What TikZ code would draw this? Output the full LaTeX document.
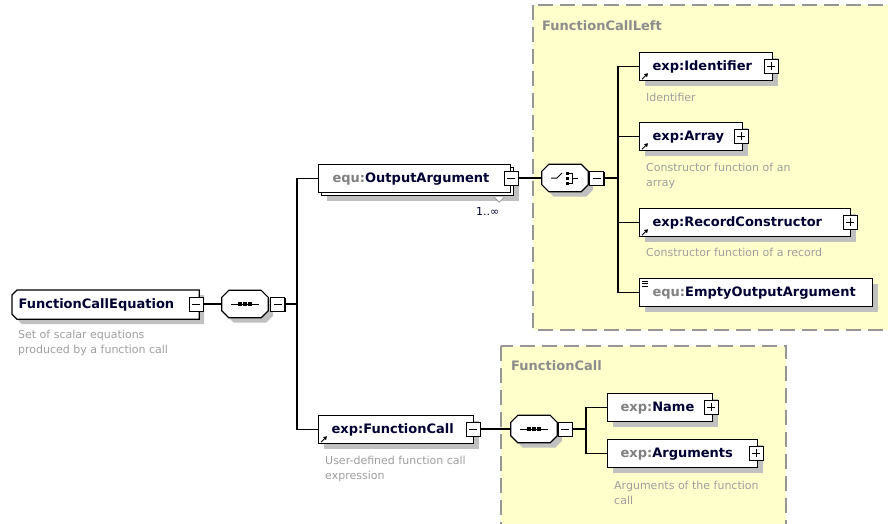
\documentclass[tikz,border=0pt]{standalone}
\usepackage{fontspec}
\setmainfont{DejaVu Sans}
\usetikzlibrary{arrows.meta,calc,shadows,backgrounds}

\definecolor{grpfill}{RGB}{255,255,204}
\definecolor{grpline}{RGB}{150,150,150}
\definecolor{grptext}{RGB}{140,140,140}
\definecolor{desctext}{RGB}{158,158,158}
\definecolor{nametext}{RGB}{0,0,51}
\definecolor{pfxtext}{RGB}{128,128,128}
\definecolor{shade}{RGB}{192,192,192}

\newcommand{\pfx}[1]{\textcolor{pfxtext}{#1}}

\begin{document}
\begin{tikzpicture}[x=1pt,y=-1pt,
  conn/.style={line width=1.2pt},
  grp/.style={fill=grpfill,draw=grpline,line width=1.4pt,dash pattern=on 15pt off 7pt},
  grplabel/.style={anchor=base west,inner sep=0pt,text=grptext,font=\fontsize{13}{15}\selectfont\bfseries},
  shadowed/.style={drop shadow={shadow xshift=5pt,shadow yshift=-5pt,fill=shade,opacity=1}},
  outline/.style={line width=1.2pt,fill=white,shadowed},
  box/.style={draw,fill=white,line width=1.2pt,anchor=north west,minimum height=28pt,
    inner xsep=0pt,inner ysep=0pt,text width=#1,align=left,text height=10pt,text depth=3pt,
    text=nametext,font=\fontsize{13}{15}\selectfont\bfseries},
  elem/.style={box=#1,shadowed},
  desc/.style={anchor=north west,inner sep=0pt,align=left,text=desctext,font=\fontsize{11}{15}\selectfont},
  comp/.style={minimum width=46pt,minimum height=27pt,inner sep=0pt},
  icon/.style={line width=1pt},
  xbox/.style={draw,fill=white,line width=1pt,minimum size=14pt,inner sep=0pt,
    drop shadow={shadow xshift=1.3pt,shadow yshift=-1.3pt,fill=black,opacity=1}},
  minus/.style={xbox,path picture={
    \draw[line width=1pt] ([xshift=3pt]path picture bounding box.west) -- ([xshift=-3pt]path picture bounding box.east);}},
  plus/.style={xbox,path picture={
    \draw[line width=1pt] ([xshift=3pt]path picture bounding box.west) -- ([xshift=-3pt]path picture bounding box.east)
      ([yshift=3pt]path picture bounding box.south) -- ([yshift=-3pt]path picture bounding box.north);}},
  refarr/.style={line width=1pt,-{Triangle[length=3.5pt,width=4pt]}}]

\useasboundingbox (0,0) rectangle (888,523);
\clip (0,0) rectangle (888,523);

\node[grplabel] (leftlbl) at (542,30) {FunctionCallLeft};
\node[grplabel] (calllbl) at (511,370) {FunctionCall};

\node[box=186pt,draw=none,fill=none] (root) at (12,290) {\hspace*{6pt}FunctionCallEquation};
\node[minus] (rootx) at (196,304) {};
\node[desc] (rootdesc) at (18,329.5) {Set of scalar equations\\produced by a function call};

\node[comp] (seqA) at (245,304) {};
\node[minus] (seqAx) at (277.5,304) {};

\node[elem=192pt] (oargback) at (321,167) {};
\node[box=192pt] (oarg) at (318,164) {\hspace*{14pt}\pfx{equ:}OutputArgument};
\node[minus] (oargx) at (511,178) {};
\draw[grpline,line width=0.8pt,fill=white] ([shift={(-20pt,-1pt)}]oargback.south east) -- ++(5pt,-5pt) -- ++(5pt,5pt);
\node[anchor=base west,inner sep=0pt,text=nametext,font=\fontsize{11}{13}\selectfont] (oargmult) at (476,215) {1..∞};

\node[comp] (choice) at (565,178) {};
\node[minus] (choicex) at (596.5,178) {};

\node[elem=133pt] (ident) at (639,52) {\hspace*{13pt}exp:Identifier};
\node[plus] (identx) at (771,66) {};
\node[desc] (identdesc) at (646,92.5) {Identifier};

\node[elem=103pt] (array) at (639,122) {\hspace*{13pt}exp:Array};
\node[plus] (arrayx) at (741,136) {};
\node[desc] (arraydesc) at (646,163) {Constructor function of an\\array};

\node[elem=211pt] (record) at (639,208) {\hspace*{13pt}exp:RecordConstructor};
\node[plus] (recordx) at (850,222) {};
\node[desc] (recorddesc) at (646,248) {Constructor function of a record};

\node[elem=233pt] (empty) at (639,278) {\hspace*{13pt}\pfx{equ:}EmptyOutputArgument};

\node[elem=155pt] (fcall) at (318,415) {\hspace*{13pt}exp:FunctionCall};
\node[minus] (fcallx) at (473,429) {};
\node[desc] (fcalldesc) at (325,455.5) {User-defined function call\\expression};

\node[comp] (seqB) at (534,429) {};
\node[minus] (seqBx) at (565,429) {};

\node[elem=105pt] (name) at (607,393) {\hspace*{13pt}\pfx{exp:}Name};
\node[plus] (namex) at (711,407) {};

\node[elem=150pt] (args) at (607,439) {\hspace*{13pt}\pfx{exp:}Arguments};
\node[plus] (argsx) at (756,453) {};
\node[desc] (argsdesc) at (614,480.5) {Arguments of the function\\call};

\begin{scope}[on background layer]
\draw[grp] (533,5) rectangle (900,330);
\draw[grp] (501,346) rectangle (786,540);
\draw[outline] ([xshift=5pt]root.north west) -- (root.north east) -- (root.south east)
  -- ([xshift=5pt]root.south west) -- ([yshift=5pt]root.south west) -- ([yshift=-5pt]root.north west) -- cycle;
\foreach \n in {seqA,choice,seqB}
  \draw[outline] ([xshift=7pt]\n.north west) -- ([xshift=-7pt]\n.north east) -- ([yshift=-7pt]\n.north east)
    -- ([yshift=7pt]\n.south east) -- ([xshift=-7pt]\n.south east) -- ([xshift=7pt]\n.south west)
    -- ([yshift=7pt]\n.south west) -- ([yshift=-7pt]\n.north west) -- cycle;
\end{scope}

\foreach \n in {seqA,seqB} {
  \draw[icon] ([xshift=-14pt]\n.center) -- ([xshift=14pt]\n.center);
  \foreach \d in {-5,0,5}
    \fill ([xshift=\d pt]\n.center) +(-1.7pt,-1.7pt) rectangle +(1.7pt,1.7pt);
}
\draw[icon] ([xshift=-14pt]choice.center) -- ([xshift=-8pt]choice.center) -- ([shift={(-3pt,5pt)}]choice.center);
\foreach \d in {-5,0,5}
  \fill ([shift={(2pt,\d pt)}]choice.center) +(-1.5pt,-1.5pt) rectangle +(1.5pt,1.5pt);
\draw[icon] ([shift={(2pt,5pt)}]choice.center) -| ([shift={(7pt,-5pt)}]choice.center) -- ([shift={(2pt,-5pt)}]choice.center)
  ([xshift=7pt]choice.center) -- ([xshift=13pt]choice.center);

\foreach \n in {ident,array,record,fcall}
  \draw[refarr] ([shift={(3pt,2pt)}]\n.south west) -- ++(6pt,6pt);
\foreach \dy in {3,5.5,8}
  \draw[line width=0.8pt] ([shift={(3pt,-\dy pt)}]empty.north west) -- ++(6pt,0pt);

\coordinate (tA) at (297,304);
\coordinate (tB) at (618,178);
\coordinate (tC) at (586,429);

\draw[conn] (rootx.east) -- (seqA.west);
\draw[conn] (seqAx.east) -- (tA);
\draw[conn] (tA) |- (oarg.west);
\draw[conn] (tA) |- (fcall.west);
\draw[conn] (oargx.east) -- (choice.west);
\draw[conn] (choicex.east) -- (tB);
\foreach \n in {ident,array,record,empty}
  \draw[conn] (tB) |- (\n.west);
\draw[conn] (fcallx.east) -- (seqB.west);
\draw[conn] (seqBx.east) -- (tC);
\foreach \n in {name,args}
  \draw[conn] (tC) |- (\n.west);

\end{tikzpicture}
\end{document}
